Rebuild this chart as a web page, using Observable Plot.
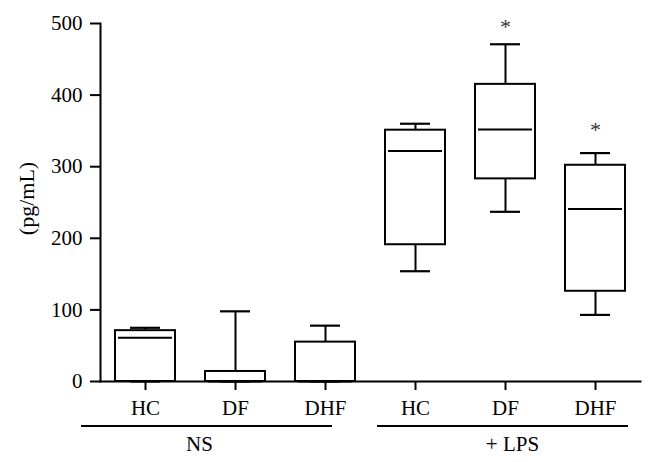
<!DOCTYPE html>
<html>
<head>
<meta charset="utf-8">
<script src="https://cdn.jsdelivr.net/npm/d3@7"></script>
<script src="https://cdn.jsdelivr.net/npm/@observablehq/plot@0.6"></script>
<style>
  html, body { margin: 0; padding: 0; background: #fff; }
  #chart svg { display: block; }
</style>
</head>
<body>
<div id="chart"></div>
<script>
// ---- data ----
const groups = ["NS", "+ LPS"];
const categories = ["HC", "DF", "DHF"];
const keys = ["NS|HC", "NS|DF", "NS|DHF", "LPS|HC", "LPS|DF", "LPS|DHF"];
const whiskerLow  = [0, 0, 0, 154, 237, 93];
const q1          = [0, 0, 0, 191, 283, 126];
const median      = [61, 0, 0, 322, 352, 241];
const q3          = [71, 14, 55, 351, 415, 302];
const whiskerHigh = [75, 98, 78, 360, 471, 319];
const starKeys = ["LPS|DF", "LPS|DHF"];
const starY = [500, 356];
const yTicks = [0, 100, 200, 300, 400, 500];
const yLabel = "(pg/mL)";

// ---- tables built from the arrays ----
const rows = keys.map((k, i) => ({
  key: k, lo: whiskerLow[i], q1: q1[i], med: median[i], q3: q3[i], hi: whiskerHigh[i]
}));
const stars = starKeys.map((k, i) => ({key: k, y: starY[i], t: "*"}));
const nsGroup = [{first: keys[0], mid: keys[1], last: keys[2], label: groups[0]}];
const lpsGroup = [{first: keys[3], mid: keys[4], last: keys[5], label: groups[1]}];

const font = "'Liberation Serif', 'Times New Roman', serif";
const ink = "#000";
const fs = 21;

const chart = Plot.plot({
  width: 653,
  height: 462,
  marginTop: 23,
  marginBottom: 81,
  marginLeft: 100,
  marginRight: 13,
  style: {fontFamily: font, fontSize: fs + "px", color: ink, background: "#fff"},
  x: {type: "band", domain: keys, range: [100, 640], paddingInner: 1 / 3, paddingOuter: 1 / 6, label: null},
  y: {domain: [0, 500], label: null},
  marks: [
    Plot.frame({anchor: "left", stroke: ink, strokeWidth: 2}),
    Plot.frame({anchor: "bottom", stroke: ink, strokeWidth: 2}),
    // whiskers
    Plot.ruleX(rows, {x: "key", y1: "q3", y2: "hi", stroke: ink, strokeWidth: 2}),
    Plot.ruleX(rows, {x: "key", y1: "lo", y2: "q1", stroke: ink, strokeWidth: 2}),
    Plot.tickY(rows, {x: "key", y: "hi", stroke: ink, strokeWidth: 2.2, insetLeft: 15, insetRight: 15}),
    Plot.tickY(rows, {x: "key", y: "lo", stroke: ink, strokeWidth: 2.2, insetLeft: 15, insetRight: 15}),
    // boxes
    Plot.barY(rows, {x: "key", y1: "q1", y2: "q3", fill: "#fff", stroke: ink, strokeWidth: 2}),
    // medians
    Plot.tickY(rows, {x: "key", y: "med", stroke: ink, strokeWidth: 2, insetLeft: 3, insetRight: 3}),
    // significance asterisks
    Plot.text(stars, {x: "key", y: "y", text: "t", fontSize: 22, dy: 3, fill: "#333"}),
    // axes
    Plot.axisY({ticks: yTicks, tickSize: 10, tickPadding: 8, fontSize: fs, strokeWidth: 2, stroke: ink, fill: ink, label: null}),
    Plot.axisX({tickSize: 9, tickPadding: 10, fontSize: fs, strokeWidth: 2, stroke: ink, fill: ink, label: null,
      tickFormat: (k) => categories[keys.indexOf(k) % 3]}),
    // group brackets
    Plot.ruleY(nsGroup, {x1: "first", x2: "last", y: () => 0, dy: 44.5, stroke: ink, strokeWidth: 2, insetLeft: -34, insetRight: 23}),
    Plot.ruleY(lpsGroup, {x1: "first", x2: "last", y: () => 0, dy: 44.5, stroke: ink, strokeWidth: 2, insetLeft: -8, insetRight: -3}),
    Plot.text(nsGroup, {x: "mid", y: () => 0, text: "label", dy: 69, dx: -36, lineAnchor: "bottom", fontSize: fs, fill: ink}),
    Plot.text(lpsGroup, {x: "mid", y: () => 0, text: "label", dy: 69, dx: 7, lineAnchor: "bottom", fontSize: fs, fill: ink}),
    // y label
    Plot.text([yLabel], {frameAnchor: "left", textAnchor: "middle", lineAnchor: "middle", text: (d) => d, rotate: -90, dx: -74, dy: -4, fontSize: 22, fill: ink})
  ]
});
document.getElementById("chart").appendChild(chart);
</script>
</body>
</html>
